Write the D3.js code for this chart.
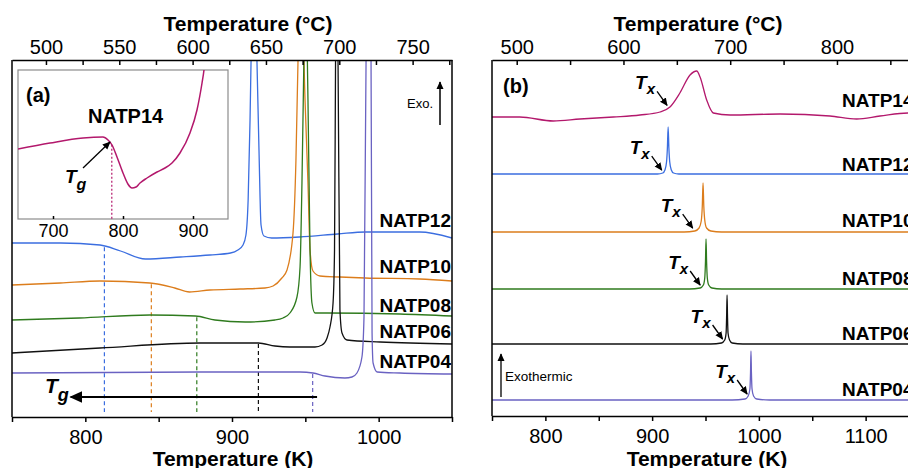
<!DOCTYPE html>
<html>
<head>
<meta charset="utf-8">
<script src="https://cdn.jsdelivr.net/npm/d3@7"></script>
<style>
  body { margin: 0; background: #fff; }
  svg { display: block; font-family: "Liberation Sans", Arial, Helvetica, sans-serif; }
  .axis path, .axis line { stroke: #000; stroke-width: 1.5; }
  .axis text { font-size: 20px; fill: #000; font-family: "Liberation Sans", Arial, sans-serif; }
  .inset-axis text { font-size: 18px; }
</style>
</head>
<body>
<div id="chart"></div>
<script>
// ---- data: temperature (K), heat flow (arbitrary offset units) ----
const sampleNames = ["NATP14", "NATP12", "NATP10", "NATP08", "NATP06", "NATP04"];
const sampleColors = ["#b3186c", "#3b6ee0", "#dc7d1c", "#2f7b1e", "#111111", "#6a62c2"];

// panel (a) heating curves around Tg
const aNATP12 = [[750,17.4],[783,17.4],[810,17.2],[824,16.6],[841,15.8],[865,16.0],[885,16.2],[899,16.4],[904,16.7],[907.5,17.2],[909.5,18.2],[911,21.7],[912.3,29.7],[913,35.7],[915,50],[917,35.7],[918.4,26.7],[919.8,19.2],[921.8,18.1],[927,17.9],[946,18.0],[972,18.3],[991,18.5],[1028,18.5],[1050,17.9]];
const aNATP10 = [[750,13.2],[783,13.4],[810,13.6],[844,13.4],[861,12.9],[871,12.5],[885,12.7],[905.5,12.8],[922.5,12.9],[928,13.1],[934,13.9],[937.5,14.7],[941.6,18.4],[943.6,25.7],[945,35.6],[947,45],[949.8,31.7],[951.8,23.4],[953.2,16.7],[955.2,14.6],[960,14.1],[973.6,14.0],[990.7,13.9],[1028,13.8],[1050,13.6]];
const aNATP08 = [[750,9.7],[796,9.9],[844,10.2],[875,10.1],[888.4,9.7],[909,9.5],[929.3,9.7],[934.8,9.9],[939.5,10.4],[944.3,12.0],[946.4,15.0],[947.7,23.4],[949,35.6],[950,45],[951.8,31.7],[953.2,16.7],[954.5,11.4],[956.6,10.4],[964.8,10.4],[1014.5,10.3],[1050,10.1]];
const aNATP06 = [[750,6.4],[810,6.9],[878,7.4],[918,7.4],[929.3,7.1],[939.5,7.0],[956.6,7.0],[961.4,7.2],[964.8,7.9],[966.8,9.0],[968.9,11.4],[969.9,16.7],[970.6,35.6],[971,45],[972.3,35.6],[973.6,10.7],[975,8.4],[978.4,7.7],[1001,7.5],[1050,7.3]];
const aNATP04 = [[750,4.4],[878,4.5],[946.4,4.5],[955.2,4.4],[963.4,4.1],[977,3.9],[981.8,4.0],[985.2,4.4],[988.6,6.0],[990,10.0],[991.4,35.6],[993.4,45],[994.8,35.6],[995.5,8.4],[996.2,5.4],[999,4.5],[1014.5,4.4],[1050,4.3]];
const tgValues = [813, 845, 876, 918, 955];   // NATP12 .. NATP04

// inset: NATP14
const insetNATP14 = [[650,7.0],[695.7,7.6],[743,8.1],[771.4,8.2],[778.6,7.9],[784.3,7.4],[791.4,6.2],[800,4.6],[807,3.5],[812.9,3.1],[818.6,3.2],[824.3,3.6],[834.3,4.1],[848.6,4.7],[860,5.1],[870,5.6],[881.4,6.6],[895.7,8.6],[905.7,10.9],[912.9,13.6],[915.7,14.9],[918,16.5]];
const insetTg = 784;

// panel (b) crystallisation peaks
const bNATP14 = [[750,29.9],[776,29.9],[807.4,29.5],[832.4,29.7],[863.6,29.9],[888.6,30.1],[907.4,30.4],[916.7,30.9],[926,32.3],[935.5,34.1],[941.8,34.5],[944.9,33.9],[951.1,31.6],[957.3,30.3],[973,30.1],[1019.8,30.2],[1066.6,30.0],[1091.6,29.7],[1113.5,30.0],[1139.7,30.3],[1150,30.3]];
const bNATP12 = [[750,24.2],[850,24.2],[905,24.2],[910,24.3],[912,24.6],[913.5,25.4],[914.3,26.8],[915,28.9],[915.7,26.8],[916.5,25.4],[918,24.6],[920,24.3],[925,24.2],[1000,24.2],[1150,24.2]];
const bNATP10 = [[750,18.4],[930,18.4],[940,18.5],[944,18.8],[946,19.5],[947,21.0],[947.7,23.3],[948.4,21.0],[949.4,19.5],[951,18.8],[955,18.5],[965,18.4],[1150,18.4]];
const bNATP08 = [[750,12.7],[935,12.7],[945,12.8],[948,13.1],[949.3,13.8],[950,15.5],[950.5,17.7],[951,15.5],[951.7,13.8],[953,13.1],[956,12.8],[965,12.7],[1150,12.7]];
const bNATP06 = [[750,7.2],[955,7.2],[965,7.3],[968,7.6],[969.3,8.3],[969.8,10.0],[970.2,12.1],[970.6,10.0],[971.1,8.3],[972.5,7.6],[975,7.3],[985,7.2],[1150,7.2]];
const bNATP04 = [[750,1.6],[975,1.6],[987,1.7],[990,2.0],[991.6,2.7],[992.2,4.4],[992.6,6.5],[993.0,4.4],[993.6,2.7],[995,2.0],[998,1.7],[1010,1.6],[1150,1.6]];
const txValues = [914, 909, 938, 945, 966, 989];   // NATP14 .. NATP04

// tick values
const celsiusTicksA = d3.range(500, 776, 25);
const kelvinTicksA = d3.range(750, 1051, 50);
const celsiusTicksB = d3.range(500, 851, 50);
const kelvinTicksB = d3.range(750, 1151, 50);
const insetTicks = [700, 800, 900];

// ---- setup ----
const width = 908, height = 468;
const svg = d3.select("#chart").append("svg")
    .attr("width", width)
    .attr("height", height);

const defs = svg.append("defs");
function addMarker(id, size) {
    defs.append("marker")
        .attr("id", id)
        .attr("viewBox", "0 0 10 10")
        .attr("refX", 9).attr("refY", 5)
        .attr("markerUnits", "userSpaceOnUse")
        .attr("markerWidth", size).attr("markerHeight", size)
        .attr("orient", "auto")
        .append("path")
        .attr("d", "M0,0.5L10,5L0,9.5z")
        .attr("fill", "#000");
}
addMarker("head", 8);
addMarker("headBig", 13);

function valueAt(series, k) {
    const i = d3.bisector(d => d[0]).left(series, k);
    if (i <= 0) return series[0][1];
    if (i >= series.length) return series[series.length - 1][1];
    const a = series[i - 1], b = series[i];
    return a[1] + (b[1] - a[1]) * (k - a[0]) / (b[0] - a[0]);
}

function subText(g, x, y, main, sub, size, subSize, dy) {
    const t = g.append("text")
        .attr("x", x).attr("y", y)
        .attr("font-weight", "bold").attr("font-style", "italic")
        .attr("font-size", size + "px");
    t.append("tspan").text(main);
    t.append("tspan").attr("dy", dy).attr("font-size", subSize + "px").text(sub);
}

const toC = k => k - 273.15;

function drawAxes(x, top, bottom, cTicks, kTicks, titleTopX, titleBotX) {
    const xC = d3.scaleLinear().domain(x.domain().map(toC)).range(x.range());
    svg.append("g").attr("class", "axis")
        .attr("transform", `translate(0,${top})`)
        .call(d3.axisTop(xC).tickValues(cTicks).tickSizeInner(-5).tickSizeOuter(0).tickPadding(6)
            .tickFormat(d => d % (cTicks === celsiusTicksA ? 50 : 100) === 0 ? d : ""));
    svg.append("g").attr("class", "axis")
        .attr("transform", `translate(0,${bottom})`)
        .call(d3.axisBottom(x).tickValues(kTicks).tickSizeInner(5).tickSizeOuter(0).tickPadding(8)
            .tickFormat(d => d % 100 === 0 ? d : ""));
    // side borders
    x.range().forEach(px => {
        svg.append("line")
            .attr("x1", px).attr("x2", px).attr("y1", top).attr("y2", bottom)
            .attr("stroke", "#000").attr("stroke-width", 1.5);
    });
    svg.append("text").attr("x", titleTopX).attr("y", 31)
        .attr("text-anchor", "middle").attr("font-weight", "bold").attr("font-size", "21px")
        .text("Temperature (°C)");
    svg.append("text").attr("x", titleBotX).attr("y", 466)
        .attr("text-anchor", "middle").attr("font-weight", "bold").attr("font-size", "21px")
        .text("Temperature (K)");
}

// ================= panel (a) =================
const xA = d3.scaleLinear().domain([750, 1050]).range([12, 452]);
const yA = d3.scaleLinear().domain([0, 35.6]).range([417, 61]);

defs.append("clipPath").attr("id", "clipA")
    .append("rect").attr("x", 12).attr("y", 60).attr("width", 440).attr("height", 357);

const lineA = d3.line().x(d => xA(d[0])).y(d => yA(d[1])).curve(d3.curveMonotoneX);
const seriesA = [aNATP12, aNATP10, aNATP08, aNATP06, aNATP04];
const gA = svg.append("g").attr("clip-path", "url(#clipA)");

// Tg guide lines
seriesA.forEach((s, i) => {
    const tg = tgValues[i];
    gA.append("line")
        .attr("x1", xA(tg)).attr("x2", xA(tg))
        .attr("y1", yA(valueAt(s, tg)) + 1).attr("y2", yA(0.5))
        .attr("stroke", sampleColors[i + 1]).attr("stroke-width", 1.2)
        .attr("stroke-dasharray", "4,3");
});

gA.selectAll(".traceA")
    .data(seriesA)
    .enter().append("path")
    .attr("class", "traceA")
    .attr("d", lineA)
    .attr("fill", "none")
    .attr("stroke", (d, i) => sampleColors[i + 1])
    .attr("stroke-width", 1.3);

// sample labels
const labelBaseA = [227, 273, 312, 338, 368];
sampleNames.slice(1).forEach((n, i) => {
    svg.append("text").attr("x", 451).attr("y", labelBaseA[i])
        .attr("text-anchor", "end").attr("font-weight", "bold").attr("font-size", "19px")
        .text(n);
});

// Tg arrow
svg.append("line")
    .attr("x1", xA(958)).attr("x2", xA(790))
    .attr("y1", yA(2.0)).attr("y2", yA(2.0))
    .attr("stroke", "#000").attr("stroke-width", 2)
    .attr("marker-end", "url(#headBig)");
subText(svg, 45, 393, "T", "g", 21, 18, 8);

// Exo. arrow
svg.append("text").attr("x", 407).attr("y", 108).attr("font-size", "13px").text("Exo.");
svg.append("line").attr("x1", 440).attr("x2", 440).attr("y1", 125).attr("y2", 82)
    .attr("stroke", "#000").attr("stroke-width", 1.5).attr("marker-end", "url(#head)");

drawAxes(xA, 60, 417, celsiusTicksA, kelvinTicksA, 248, 233);

// ---- inset ----
const xI = d3.scaleLinear().domain([650, 950]).range([18, 228]);
const yI = d3.scaleLinear().domain([0, 14.9]).range([219, 70]);

svg.append("rect").attr("x", 18).attr("y", 70).attr("width", 210).attr("height", 149)
    .attr("fill", "#fff").attr("stroke", "#8c8c8c").attr("stroke-width", 1.2);
defs.append("clipPath").attr("id", "clipI")
    .append("rect").attr("x", 18).attr("y", 70).attr("width", 210).attr("height", 149);

const gI = svg.append("g").attr("clip-path", "url(#clipI)");
gI.append("line")
    .attr("x1", xI(insetTg)).attr("x2", xI(insetTg))
    .attr("y1", yI(valueAt(insetNATP14, insetTg))).attr("y2", yI(0))
    .attr("stroke", sampleColors[0]).attr("stroke-width", 1.2).attr("stroke-dasharray", "2,2");
gI.append("path")
    .datum(insetNATP14)
    .attr("d", d3.line().x(d => xI(d[0])).y(d => yI(d[1])).curve(d3.curveMonotoneX))
    .attr("fill", "none").attr("stroke", sampleColors[0]).attr("stroke-width", 1.5);

svg.append("g").attr("class", "axis inset-axis")
    .attr("transform", "translate(0,219)")
    .call(d3.axisBottom(xI).tickValues(insetTicks).tickSizeInner(-3).tickSizeOuter(0).tickPadding(5))
    .call(g => g.select(".domain").remove())
    .call(g => g.selectAll("line").attr("stroke", "#8c8c8c").attr("stroke-width", 1));

svg.append("text").attr("x", 26).attr("y", 102).attr("font-weight", "bold").attr("font-size", "20px").text("(a)");
svg.append("text").attr("x", 88).attr("y", 123).attr("font-weight", "bold").attr("font-size", "20px").text("NATP14");
svg.append("line").attr("x1", 83).attr("y1", 168).attr("x2", 110).attr("y2", 142)
    .attr("stroke", "#000").attr("stroke-width", 1.3).attr("marker-end", "url(#head)");
subText(svg, 65, 183, "T", "g", 19, 16, 7);

// ================= panel (b) =================
const xB = d3.scaleLinear().domain([750, 1150]).range([492, 919]);
const yB = d3.scaleLinear().domain([0, 35.6]).range([416, 60]);

defs.append("clipPath").attr("id", "clipB")
    .append("rect").attr("x", 492).attr("y", 60).attr("width", 427).attr("height", 357);

const lineB = d3.line().x(d => xB(d[0])).y(d => yB(d[1])).curve(d3.curveMonotoneX);
const seriesB = [bNATP14, bNATP12, bNATP10, bNATP08, bNATP06, bNATP04];
const gB = svg.append("g").attr("clip-path", "url(#clipB)");

gB.selectAll(".traceB")
    .data(seriesB)
    .enter().append("path")
    .attr("class", "traceB")
    .attr("d", lineB)
    .attr("fill", "none")
    .attr("stroke", (d, i) => sampleColors[i])
    .attr("stroke-width", 1.3);

// Tx arrows
seriesB.forEach((s, i) => {
    const ex = xB(txValues[i]), ey = yB(valueAt(s, txValues[i])) - 3;
    svg.append("line")
        .attr("x1", ex - 10).attr("y1", ey - 14).attr("x2", ex).attr("y2", ey)
        .attr("stroke", "#000").attr("stroke-width", 1.3).attr("marker-end", "url(#head)");
    subText(svg, ex - 32, ey - 16, "T", "x", 19, 15, 5);
});

const labelBaseB = [107, 171, 227, 285, 340, 396];
sampleNames.forEach((n, i) => {
    svg.append("text").attr("x", 842).attr("y", labelBaseB[i])
        .attr("font-weight", "bold").attr("font-size", "19px").text(n);
});

svg.append("text").attr("x", 503).attr("y", 93).attr("font-weight", "bold").attr("font-size", "20px").text("(b)");

svg.append("line").attr("x1", 501).attr("x2", 501).attr("y1", 397).attr("y2", 354)
    .attr("stroke", "#000").attr("stroke-width", 1.3).attr("marker-end", "url(#head)");
svg.append("text").attr("x", 505).attr("y", 381).attr("font-size", "13.5px").text("Exothermic");

drawAxes(xB, 60, 416, celsiusTicksB, kelvinTicksB, 698, 707);
</script>
</body>
</html>
